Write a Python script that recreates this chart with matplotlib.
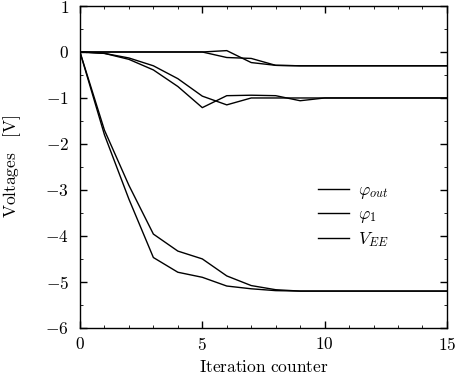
import numpy as np
import matplotlib
matplotlib.use("Agg")
import matplotlib.pyplot as plt
from matplotlib.ticker import MultipleLocator

plt.rcParams['mathtext.fontset'] = 'cm'
plt.rcParams['font.family'] = 'serif'
plt.rcParams['font.serif'] = ['cmr10', 'DejaVu Serif']
plt.rcParams['axes.unicode_minus'] = False

it = np.arange(16)

# run a
phi_out_a = [0, 0, 0, 0, 0, 0, 0.03, -0.23, -0.29, -0.3, -0.3, -0.3, -0.3, -0.3, -0.3, -0.3]
phi1_a = [0, -0.03, -0.13, -0.3, -0.58, -0.96, -1.15, -1.0, -1.0, -1.0, -1.0, -1.0, -1.0, -1.0, -1.0, -1.0]
vee_a = [0, -1.7, -2.9, -3.96, -4.33, -4.5, -4.87, -5.08, -5.17, -5.2, -5.2, -5.2, -5.2, -5.2, -5.2, -5.2]
# run b
phi_out_b = [0, 0, 0, 0, 0, 0, -0.12, -0.14, -0.29, -0.3, -0.3, -0.3, -0.3, -0.3, -0.3, -0.3]
phi1_b = [0, -0.03, -0.16, -0.39, -0.75, -1.21, -0.95, -0.94, -0.95, -1.06, -1.0, -1.0, -1.0, -1.0, -1.0, -1.0]
vee_b = [0, -1.8, -3.2, -4.47, -4.79, -4.9, -5.09, -5.15, -5.19, -5.2, -5.2, -5.2, -5.2, -5.2, -5.2, -5.2]

fig = plt.figure(figsize=(4.57, 3.76), dpi=100)
ax = fig.add_axes([0.175, 0.128, 0.803, 0.856])

ax.plot(it, phi_out_a, color='k', lw=1, label=r'$\varphi_{out}$')
ax.plot(it, phi1_a, color='k', lw=1, label=r'$\varphi_1$')
ax.plot(it, vee_a, color='k', lw=1, label=r'$V_{EE}$')
ax.plot(it, phi_out_b, color='k', lw=1)
ax.plot(it, phi1_b, color='k', lw=1)
ax.plot(it, vee_b, color='k', lw=1)

ax.set_xlim(0, 15)
ax.set_ylim(-6, 1)
xt = [0, 5, 10, 15]
yt = [-6, -5, -4, -3, -2, -1, 0, 1]
ax.set_xticks(xt)
ax.set_xticklabels([r'$%d$' % v for v in xt])
ax.set_yticks(yt)
ax.set_yticklabels([r'$%d$' % v for v in yt])
ax.xaxis.set_minor_locator(MultipleLocator(1))
ax.yaxis.set_minor_locator(MultipleLocator(0.5))
ax.tick_params(which='both', direction='in', top=True, right=True, labelsize=12.5)
ax.tick_params(which='major', length=5, width=1)
ax.tick_params(which='minor', length=2.5, width=0.6)
ax.tick_params(axis='y', which='major', pad=8)
ax.tick_params(axis='x', which='major', pad=6)
for s in ax.spines.values():
    s.set_linewidth(1)

ax.set_xlabel(r'$\mathrm{Iteration\ counter}$', fontsize=12.5, labelpad=4)
ax.set_ylabel(r'$\mathrm{Voltages\quad[V]}$', fontsize=12.5, labelpad=16)

ax.legend(loc='center left', bbox_to_anchor=(0.625, 0.348), frameon=False,
          fontsize=12.5, handlelength=1.8, handletextpad=0.5, borderpad=0,
          labelspacing=0.33)

fig.savefig('out.png', dpi=100)
